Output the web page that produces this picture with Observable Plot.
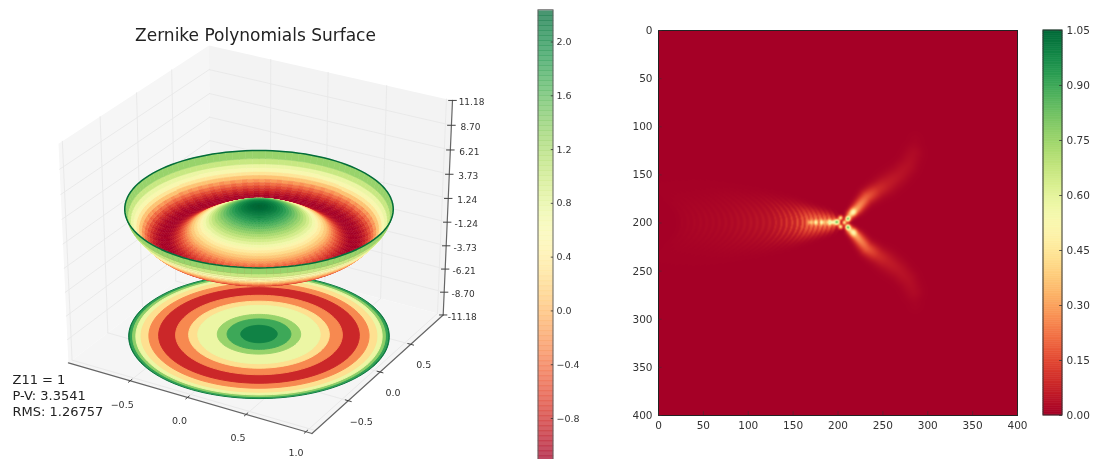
<!DOCTYPE html>
<html><head><meta charset="utf-8">
<script src="https://cdn.jsdelivr.net/npm/d3@7"></script>
<script src="https://cdn.jsdelivr.net/npm/@observablehq/plot@0.6"></script>
<style>
html,body{margin:0;padding:0;background:#fff;overflow:hidden}
#page{position:relative;width:1096px;height:459px;overflow:hidden;filter:blur(.35px)}
#page>svg,#page>div{position:absolute}
text{font-family:"DejaVu Sans",sans-serif}
</style></head><body><div id="page"></div>
<script>
// ---- values ----
const titleText = "Zernike Polynomials Surface";
const noteLines = ["Z11 = 1", "P-V: 3.3541", "RMS: 1.26757"];
const zTicks = [-11.18,-8.70,-6.21,-3.73,-1.24,1.24,3.73,6.21,8.70,11.18];
const xTicks = [-0.5,0.0,0.5,1.0];
const yTicks = [-0.5,0.0,0.5];
const axisExtent = 1.05;
const discCentre = [-0.035,0.065];
const surfaceMin = -1.118, surfaceMax = 2.236;
const profileRadius = [0,.022,.044,.066,.088,.11,.132,.154,.176,.198,.22,.242,.264,.286,.308,.33,.352,.374,.396,.418,.44,.462,.484,.506,.522,.538,.554,.571,.587,.603,.619,.635,.651,.668,.684,.70,.72,.74,.76,.78,.80,.82,.84,.86,.88,.90,.92,.94,.96,.98,1];
const profileHeight = [2.236,2.231,2.215,2.188,2.151,2.103,2.046,1.978,1.901,1.815,1.721,1.618,1.508,1.390,1.267,1.137,1.003,.864,.723,.578,.433,.287,.142,-.002,-.143,-.280,-.411,-.535,-.652,-.759,-.855,-.939,-1.008,-1.062,-1.099,-1.117,-1.114,-1.088,-1.037,-.960,-.855,-.719,-.551,-.348,-.108,.171,.42,.72,1.05,1.5,2.236];
const rimBandValue = [.72,1.0,1.3];   // colour of the three outermost bands of the bowl
const rimValue = 2.2;
const ringRadius = [1.0,.99,.97,.945,.905,.845,.77,.64,.54,.47,.32,.245,.14];
const ringValue  = [2.15,1.8,1.35,.72,.25,-.3,-.85,-.3,.25,.72,1.3,1.75,2.05];
const bar1Ticks = [-0.8,-0.4,0.0,0.4,0.8,1.2,1.6,2.0];
const bar2Ticks = [0,.15,.30,.45,.60,.75,.90,1.05];
const imageTicks = [0,50,100,150,200,250,300,350,400];
// bright spots of the right image: x, y, sigma, amplitude
const spotX = [199,211,211,217,217.6,203,203,190,182.3,175,169,207,194];
const spotY = [199,195.7,204.3,188.7,209.5,194.6,203.9,199.3,199.3,199.3,199.3,199.5,199.3];
const spotS = [1.9,1.9,1.9,2.6,2.6,1.6,1.6,1.8,1.8,1.8,1.7,1.5,1.5];
const spotA = [.74,.74,.74,.22,.22,.42,.42,.34,.3,.27,.2,.42,.32];
// upper caustic arm (mirrored about y = 199.5): x, y, half width, amplitude
const armX = [214,222,232,245,255,268,278,284,286];
const armY = [191,184,173,165,159,150,140,128,115];
const armW = [3,4,5,6,7,7,7,7,6];
const armA = [.32,.28,.18,.09,.06,.042,.032,.022,.006];
// fringes left of the cusp, crossing y = 199.5 at these x
const fringeX = [26,33,40,47,54,61,68,75,82,89,96,103,110,117,124,131,137,143,149,155,161,166,171,176,181,186,191,196];
const fringeA = [.007,.009,.011,.013,.014,.015,.016,.018,.02,.023,.026,.029,.032,.036,.04,.045,.052,.062,.072,.085,.1,.115,.125,.135,.14,.14,.15,.15];
const fringeW = [22,23,24,24,24,24,24,24,23,23,23,22,22,21,20,19,18,17,16,15,14,13,12,11,10,9,8,7];
const fringeBend = .028;

// ---- 3D camera of the left panel ----
const el = 30*Math.PI/180, az = -60*Math.PI/180, dist = 10;
const R3 = [-Math.sin(az), Math.cos(az), 0];
const U3 = [-Math.sin(el)*Math.cos(az), -Math.sin(el)*Math.sin(az), Math.cos(el)];
const W3 = [Math.cos(el)*Math.cos(az), Math.cos(el)*Math.sin(az), Math.sin(el)];
const zTop = zTicks[zTicks.length-1];
const dot3 = (a,b)=>a[0]*b[0]+a[1]*b[1]+a[2]*b[2];
function cam([x,y,z]){
  const n=[x/(2*axisExtent),y/(2*axisExtent),z/(2*zTop)];
  const d=dot3(W3,n), s=dist/(dist-d);
  return {px:dot3(R3,n)*s, py:dot3(U3,n)*s, d};
}
const E=axisExtent;
const polyRows=(id,pts,extra={})=>pts.map(p=>{const c=cam(p);return {id,px:c.px,py:c.py,...extra};});

// panes
const panes=[
  {pts:[[-E,-E,-zTop],[-E,E,-zTop],[-E,E,zTop],[-E,-E,zTop]],c:"#f6f6f6"},
  {pts:[[-E,E,-zTop],[E,E,-zTop],[E,E,zTop],[-E,E,zTop]],c:"#f3f3f3"},
  {pts:[[-E,-E,-zTop],[E,-E,-zTop],[E,E,-zTop],[-E,E,-zTop]],c:"#f5f5f5"}];
const paneRows=panes.flatMap((p,i)=>polyRows(i,[...p.pts,p.pts[0]],{c:p.c}));
// grid
const gridSegs=[
  ...xTicks.flatMap(t=>[[[t,-E,-zTop],[t,E,-zTop]],[[t,E,-zTop],[t,E,zTop]]]),
  ...yTicks.flatMap(t=>[[[-E,t,-zTop],[E,t,-zTop]],[[-E,t,-zTop],[-E,t,zTop]]]),
  [[-E,-1,-zTop],[E,-1,-zTop]],[[-E,-1,-zTop],[-E,-1,zTop]],
  ...zTicks.slice(1,-1).flatMap(t=>[[[-E,-E,t],[-E,E,t]],[[-E,E,t],[E,E,t]]])
];
const gridRows=gridSegs.flatMap((s,i)=>polyRows(i,s));
// axes
const axisRows=[[[-E,-E,-zTop],[E,-E,-zTop]],[[E,-E,-zTop],[E,E,-zTop]],[[E,E,-zTop],[E,E,zTop]]]
  .flatMap((s,i)=>polyRows(i,s));
const tl=.025;
const tickRows=[
  ...xTicks.map(t=>[[t,-E-tl,-zTop],[t,-E+tl,-zTop]]),
  ...yTicks.map(t=>[[E-tl,t,-zTop],[E+tl,t,-zTop]]),
  ...zTicks.map(t=>[[E-tl,E-tl*.577,t],[E+tl,E+tl*.577,t]])
].flatMap((s,i)=>polyRows(i,s));
const labelRow=(p,text)=>{const c=cam(p);return {px:c.px,py:c.py,text};};
const fmt=v=>v.toFixed(1).replace("-","\u2212");
const xLab=xTicks.map(t=>labelRow([t,-E,-zTop],fmt(t)));
const yLab=yTicks.map(t=>labelRow([E,t,-zTop],fmt(t)));
const zLab=zTicks.map(t=>labelRow([E,E,t],t.toFixed(2)));

// contour disc on the floor
const nSect=120;
const angles=d3.range(nSect+1).map(k=>k*2*Math.PI/nSect);
const polar=(r,a,h)=>[discCentre[0]+r*Math.cos(a),discCentre[1]+r*Math.sin(a),h];
const ringRows=ringRadius.flatMap((r,i)=>polyRows(i,angles.map(a=>polar(r,a,-zTop)),{v:ringValue[i]}));
// bowl surface
const quads=[];
const nBands=profileRadius.length-1;
for(let i=0;i<nBands;i++)for(let k=0;k<nSect;k++){
  const r0=profileRadius[i],r1=profileRadius[i+1],h0=profileHeight[i],h1=profileHeight[i+1];
  const a0=angles[k],a1=angles[k+1];
  const pts=[polar(r0,a0,h0),polar(r1,a0,h1),polar(r1,a1,h1),polar(r0,a1,h0)];
  const d=d3.mean(pts,p=>cam(p).d);
  // the reference's facets alternate slightly, which shows as fine radial stripes
  const facet=(r1>.55&&r1<.9)?(k%2?.03:-.03):0;
  const back=nBands-1-i;
  const v=back<rimBandValue.length?rimBandValue[rimBandValue.length-1-back]:(h0+h1)/2+facet;
  quads.push({pts,d,v});
}
quads.sort((a,b)=>a.d-b.d);
const bowlRows=quads.flatMap((q,i)=>polyRows(i,[...q.pts,q.pts[0]],{v:q.v}));
const rimRows=polyRows(0,angles.map(a=>polar(1,a,profileHeight[nBands])),{v:rimValue});

const cLT=cam([-E,-E,zTop]),cRT=cam([E,E,zTop]),cFB=cam([E,-E,-zTop]),cBT=cam([-E,E,zTop]);
const cmap1={type:"linear",scheme:"RdYlGn",domain:[surfaceMin,surfaceMax]};

const page=document.getElementById("page");
function place(el,left,top){el.style.left=left+"px";el.style.top=top+"px";page.appendChild(el);}

// ---- left 3D panel ----
const line=(rows,o)=>Plot.line(rows,{x:"px",y:"py",z:"id",...o});
const note=(t,dy)=>Plot.text([t],{frameAnchor:"top-left",dx:12,dy,textAnchor:"start",lineAnchor:"middle",fontSize:13,fill:"#222"});
place(Plot.plot({
  width:530,height:459,margin:0,
  style:{background:"transparent"},
  x:{axis:null,domain:[cLT.px,cRT.px],range:[58,452]},
  y:{axis:null,domain:[cFB.py,cBT.py],range:[433,45]},
  color:cmap1,
  marks:[
    line(paneRows,{fill:"c",stroke:"none"}),
    line(gridRows,{stroke:"#e8e8e8",strokeWidth:.9}),
    line(axisRows,{stroke:"#666",strokeWidth:1.2}),
    line(tickRows,{stroke:"#444",strokeWidth:1}),
    line(ringRows,{fill:"v",stroke:"v",strokeWidth:1}),
    line(bowlRows,{fill:"v",stroke:"v",strokeWidth:.5}),
    line(rimRows,{stroke:"v",strokeWidth:1.5}),
    Plot.text(xLab.slice(0,3),{x:"px",y:"py",text:"text",dx:-8,dy:24,fontSize:9.5,fill:"#333"}),
    Plot.text(xLab.slice(3),{x:"px",y:"py",text:"text",dx:-10,dy:21,fontSize:9.5,fill:"#333"}),
    Plot.text(yLab,{x:"px",y:"py",text:"text",dx:13,dy:21,fontSize:9.5,fill:"#333"}),
    Plot.text(zLab,{x:"px",y:"py",text:"text",dx:19,dy:2,fontSize:9,fill:"#333"}),
    Plot.text([titleText],{frameAnchor:"top-left",dx:255,dy:35,textAnchor:"middle",lineAnchor:"middle",fontSize:17,fill:"#222"}),
    note(noteLines[0],379),note(noteLines[1],395),note(noteLines[2],411)
  ]
}),0,0);

// ---- left colour bar ----
const bar1Step=.0372;
const bar1Cells=d3.range(surfaceMin,surfaceMax-bar1Step/2,bar1Step);
place(Plot.plot({
  width:70,height:459,margin:0,
  style:{background:"transparent"},
  x:{axis:null,domain:[0,1],range:[8,23]},
  y:{axis:null,domain:[-0.8,2.0],range:[418,41.5]},
  color:cmap1,
  marks:[
    Plot.rect(bar1Cells,{x1:()=>0,x2:()=>1,y1:d=>d,y2:d=>Math.min(d+bar1Step,surfaceMax),fill:d=>d,fillOpacity:.72,stroke:d=>d,strokeOpacity:.45,strokeWidth:.7}),
    Plot.rect([surfaceMin],{x1:()=>0,x2:()=>1,y1:()=>surfaceMin,y2:()=>surfaceMax,stroke:"#666",fill:"none",strokeWidth:1}),
    Plot.ruleY(bar1Ticks,{y:d=>d,x1:()=>.85,x2:()=>1,stroke:"#333",strokeWidth:.8}),
    Plot.text(bar1Ticks,{x:()=>1,y:d=>d,text:d=>fmt(d),dx:3,textAnchor:"start",fontSize:9.5,fill:"#333"})
  ]
}),530,0);

// ---- right image ----
const mid=199.5;
function field(x,y){
  let v=0;
  for(let i=0;i<spotX.length;i++){
    const dx=x-spotX[i],dy=y-spotY[i],s=spotS[i];
    v+=spotA[i]*Math.exp(-(dx*dx+dy*dy)/(2*s*s));
  }
  const ay=mid-Math.abs(y-mid); // upper arm, mirrored
  let arm=0;
  for(let i=0;i<armX.length-1;i++){
    const ex=armX[i+1]-armX[i],ey=armY[i+1]-armY[i],L=ex*ex+ey*ey;
    const t=Math.max(0,Math.min(1,((x-armX[i])*ex+(ay-armY[i])*ey)/L));
    const qx=x-(armX[i]+t*ex),qy=ay-(armY[i]+t*ey);
    const w=armW[i]+t*(armW[i+1]-armW[i]),a=armA[i]+t*(armA[i+1]-armA[i]);
    arm=Math.max(arm,a*Math.exp(-(qx*qx+qy*qy)/(2*w*w)));
  }
  v+=arm;
  const dy=y-mid, xf=x+fringeBend*dy*dy;
  for(let i=0;i<fringeX.length;i++){
    const dd=xf-fringeX[i];
    if(Math.abs(dd)>7)continue;
    const e=Math.exp(-dy*dy/(2*fringeW[i]*fringeW[i]/1.6));
    v+=fringeA[i]*e*(.4+.6*Math.exp(-dd*dd/(2*1.4*1.4)));
  }
  return Math.min(v,1.05);
}
place(Plot.plot({
  width:440,height:459,margin:0,
  style:{background:"transparent"},
  x:{axis:null,domain:[0,400],range:[38,397]},
  y:{axis:null,domain:[0,400],range:[30,415]},
  color:{type:"linear",scheme:"RdYlGn",domain:[0,1.05]},
  marks:[
    Plot.raster({x1:0,y1:0,x2:400,y2:400,pixelSize:1,fill:field}),
    Plot.frame({stroke:"#222",strokeWidth:1,insetLeft:38,insetRight:43,insetTop:30,insetBottom:44}),
    Plot.text(imageTicks,{x:()=>0,y:d=>d,text:d=>String(d),dx:-6,textAnchor:"end",fontSize:10.5,fill:"#333"}),
    Plot.text(imageTicks,{x:d=>d,y:()=>400,text:d=>String(d),dy:10,fontSize:10.5,fill:"#333"}),
    Plot.ruleY(imageTicks,{y:d=>d,x1:()=>0,x2:()=>4,stroke:"#333",strokeOpacity:.5}),
    Plot.ruleX(imageTicks,{x:d=>d,y1:()=>396,y2:()=>400,stroke:"#333",strokeOpacity:.5})
  ]
}),620,0);

// ---- right colour bar ----
const bar2Cells=d3.range(0,1.05,.005);
place(Plot.plot({
  width:60,height:459,margin:0,
  style:{background:"transparent"},
  x:{axis:null,domain:[0,1],range:[3,22]},
  y:{axis:null,domain:[0,1.05],range:[415,30]},
  color:{type:"linear",scheme:"RdYlGn",domain:[0,1.05]},
  marks:[
    Plot.rect(bar2Cells,{x1:()=>0,x2:()=>1,y1:d=>d,y2:d=>Math.min(d+.005,1.05),fill:d=>d,stroke:d=>d,strokeWidth:.6}),
    Plot.rect([0],{x1:()=>0,x2:()=>1,y1:()=>0,y2:()=>1.05,stroke:"#333",fill:"none",strokeWidth:1}),
    Plot.ruleY(bar2Ticks,{y:d=>d,x1:()=>.85,x2:()=>1,stroke:"#333",strokeWidth:.8}),
    Plot.text(bar2Ticks,{x:()=>1,y:d=>d,text:d=>d.toFixed(2),dx:4,textAnchor:"start",fontSize:10.5,fill:"#333"})
  ]
}),1040,0);
</script></body></html>
